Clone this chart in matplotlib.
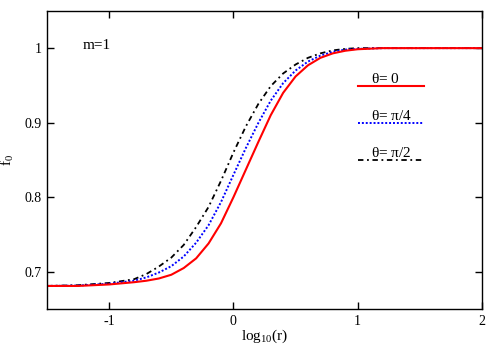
import matplotlib
matplotlib.use("Agg")
import matplotlib.pyplot as plt

plt.rcParams["font.family"] = ["Liberation Serif", "DejaVu Serif"]
plt.rcParams["mathtext.fontset"] = "custom"
plt.rcParams["mathtext.rm"] = "Liberation Serif"
plt.rcParams["mathtext.it"] = "Liberation Serif"

# log10(r) grid and f0 values
log_r = [-1.5, -1.25, -1.0, -0.8, -0.7, -0.6, -0.5, -0.4, -0.3, -0.2, -0.1, 0.0,
         0.1, 0.2, 0.3, 0.4, 0.5, 0.6, 0.7, 0.8, 0.9, 1.0, 1.2, 1.5, 2.0]
f0_theta0 = [0.681, 0.681, 0.683, 0.686, 0.688, 0.691, 0.696, 0.705, 0.718, 0.738,
             0.765, 0.800, 0.837, 0.874, 0.910, 0.940, 0.962, 0.977, 0.987, 0.993,
             0.9965, 0.9985, 1.000, 1.000, 1.000]
f0_theta_pi4 = [0.681, 0.6815, 0.684, 0.688, 0.6925, 0.699, 0.7075, 0.7205, 0.739,
                0.7625, 0.7935, 0.830, 0.866, 0.8995, 0.9295, 0.953, 0.970, 0.982,
                0.990, 0.995, 0.998, 0.999, 1.000, 1.000, 1.000]
f0_theta_pi2 = [0.681, 0.682, 0.685, 0.690, 0.697, 0.707, 0.719, 0.736, 0.760, 0.787,
                0.822, 0.860, 0.895, 0.925, 0.949, 0.966, 0.978, 0.987, 0.993, 0.997,
                0.999, 1.000, 1.000, 1.000, 1.000]

labels = [r"$\theta$= 0", r"$\theta$= $\pi$/4", r"$\theta$= $\pi$/2"]

fig = plt.figure(figsize=(5, 3.5), dpi=100)
ax = fig.add_axes([0.094, 0.117, 0.87, 0.852])

styles = [
    dict(color="#ff0000", ls="-", lw=1.5),
    dict(color="#0000ff", ls=(0, (1, 1)), lw=1.4),
    dict(color="black", ls=(0, (3, 2, 1, 2)), lw=1.3),
]

ax.plot(log_r, f0_theta_pi2, **styles[2])
ax.plot(log_r, f0_theta_pi4, **styles[1])
ax.plot(log_r, f0_theta0, **styles[0])

# hand-drawn legend
leg_y = [0.748, 0.625, 0.5]
for lab, st, yy in zip(labels, styles, leg_y):
    ax.plot([0.714, 0.867], [yy, yy], transform=ax.transAxes, **st)
    ax.text(0.745, yy + 0.024, lab, transform=ax.transAxes, fontsize=11,
            ha="left", va="center")

ax.text(0.083, 0.885, "m=1", transform=ax.transAxes, fontsize=11, va="center")

ax.set_xlim(-1.5, 2)
ax.set_ylim(0.65, 1.05)
ax.set_xticks([-1, 0, 1, 2])
ax.set_xticklabels(["-1", "0", "1", "2"])
ax.set_yticks([0.7, 0.8, 0.9, 1.0])
ax.set_yticklabels(["0.7", "0.8", "0.9", "1"])
ax.tick_params(direction="in", top=True, right=True, length=5, width=1,
               labelsize=10, pad=4)
for sp in ax.spines.values():
    sp.set_linewidth(1)

ax.set_xlabel(r"log$_{10}$(r)", fontsize=11, labelpad=0)
ax.set_ylabel(r"f$_0$", fontsize=11, labelpad=6)

fig.savefig("out.png", dpi=100)
